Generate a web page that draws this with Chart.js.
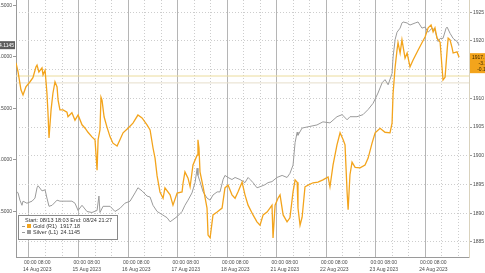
<!DOCTYPE html>
<html>
<head>
<meta charset="utf-8">
<script src="https://cdn.jsdelivr.net/npm/chart.js@4.4.0/dist/chart.umd.min.js"></script>
<style>
  html, body { margin: 0; padding: 0; background: #fff; }
  canvas { display: block; }
</style>
</head>
<body>
<canvas id="chart" width="485" height="273"></canvas>
<script>
// time = trading hours since 14 Aug 00:00 (weekend removed, so 21 Aug 00:00 = 120)
const goldHours = [-6.3,-5.3,-3.9,-2.9,-1.5,0.5,1.9,3.4,3.9,4.8,
  6.3,6.8,7.8,8.7,9.2,9.7,10.7,11.6,12.6,13.6,
  14.1,15.0,16.5,18.4,18.9,20.8,22.3,23.8,25.7,27.2,
  28.6,30.5,32.0,33.0,33.5,34.4,34.9,35.4,36.4,37.8,
  39.3,40.7,42.7,44.1,45.6,48.0,50.4,52.8,54.8,57.2,
  58.7,60.1,61.1,62.1,63.5,65.0,65.9,68.4,69.8,71.8,
  74.2,74.7,75.6,77.1,78.1,79.5,81.5,81.9,82.4,82.9,
  84.4,86.3,86.8,87.8,89.2,91.2,93.6,95.0,96.5,98.4,
  99.9,101.3,103.3,104.7,106.2,108.6,110.5,112.0,113.5,115.4,
  116.8,117.8,118.3,119.3,120.7,121.7,123.2,125.1,126.5,128.0,
  129.0,130.0,130.4,131.4,132.4,133.8,135.3,137.7,140.1,142.5,
  145.0,145.9,147.4,149.3,150.8,152.3,153.2,154.2,154.7,155.6,
  156.6,158.1,160.5,162.9,164.4,166.3,167.8,170.2,172.6,175.0,
  176.0,176.5,177.5,178.4,178.9,179.9,180.8,182.3,183.3,184.7,
  186.2,188.6,190.5,192.0,193.5,194.9,195.9,196.8,197.8,199.3,
  200.2,200.7,201.7,202.7,203.2,204.1,205.1,205.6,207.5,208.5];
const goldPrice = [1916.2,1914.6,1911.5,1910.6,1912.0,1912.9,1913.6,1915.5,1915.8,1914.6,
  1915.3,1914.1,1914.9,1910.9,1907.5,1903.1,1908.0,1910.9,1912.9,1912.0,
  1909.7,1908.0,1908.0,1907.6,1906.8,1907.5,1906.2,1907.1,1905.4,1904.8,
  1904.1,1903.3,1902.8,1897.5,1902.8,1904.5,1910.2,1909.7,1906.8,1905.0,
  1903.3,1902.2,1901.7,1902.8,1904.0,1904.8,1905.7,1907.1,1906.6,1905.4,
  1904.5,1901.4,1899.6,1896.5,1893.7,1892.6,1894.4,1893.2,1891.4,1893.5,
  1893.7,1895.3,1897.2,1896.1,1894.6,1898.4,1900.1,1902.8,1901.4,1897.2,
  1894.6,1890.9,1886.2,1885.7,1889.7,1890.2,1890.9,1894.4,1894.9,1893.2,
  1892.6,1893.7,1895.4,1893.2,1891.4,1889.7,1888.5,1887.9,1889.7,1890.2,
  1890.9,1891.4,1885.7,1891.4,1892.6,1893.2,1889.7,1888.5,1889.2,1893.7,
  1895.8,1895.4,1890.9,1887.9,1889.3,1894.6,1894.9,1895.3,1895.4,1895.8,
  1896.3,1894.6,1898.4,1901.9,1904.0,1902.8,1901.9,1893.7,1890.6,1896.7,
  1898.9,1898.0,1897.9,1898.4,1899.6,1902.2,1904.0,1904.8,1904.1,1904.0,
  1905.7,1910.9,1915.5,1918.4,1919.7,1917.9,1920.2,1917.0,1917.9,1915.5,
  1916.7,1918.4,1919.7,1920.7,1922.3,1922.8,1921.6,1922.3,1920.5,1919.8,
  1915.5,1913.2,1913.7,1918.4,1920.5,1920.2,1918.8,1917.9,1918.1,1917.18];

const silverHours = [-6.3,-5.3,-4.4,-3.4,-2.9,-1.0,1.5,2.9,3.9,4.4,
  6.3,7.8,8.7,9.7,11.2,13.6,15.0,18.4,20.8,22.3,
  23.8,25.7,28.1,30.5,33.0,33.9,34.4,35.9,39.3,41.7,
  44.1,46.5,49.0,51.4,52.8,54.8,57.2,58.7,60.1,62.1,
  64.5,66.9,68.4,69.8,71.8,74.2,75.6,77.1,79.0,80.5,
  81.5,81.9,82.9,84.4,86.3,87.8,89.2,91.2,92.6,94.1,
  95.0,96.5,98.4,99.9,102.3,104.7,106.2,107.2,108.6,110.5,
  112.0,114.4,115.9,117.8,120.2,122.7,125.1,126.5,128.0,129.0,
  130.0,130.4,132.4,134.8,139.6,142.5,145.9,149.3,151.8,154.2,
  155.6,159.0,161.9,164.4,166.8,169.2,171.2,172.6,174.1,176.0,
  176.5,177.5,178.4,179.9,180.8,181.3,183.3,184.7,187.2,188.6,
  190.5,192.0,193.5,195.4,196.8,198.3,199.3,200.7,202.2,202.7,
  204.1,205.6,207.5,208.5];
const silverPrice = [22.70,22.68,22.61,22.56,22.60,22.58,22.60,22.63,22.73,22.75,
  22.70,22.71,22.63,22.55,22.56,22.61,22.60,22.60,22.60,22.58,
  22.51,22.56,22.50,22.49,22.51,22.65,22.49,22.55,22.55,22.50,
  22.53,22.58,22.60,22.68,22.73,22.70,22.65,22.64,22.56,22.50,
  22.47,22.44,22.40,22.42,22.45,22.50,22.56,22.61,22.68,22.78,
  22.92,22.85,22.79,22.69,22.63,22.61,22.66,22.69,22.69,22.81,
  22.85,22.83,22.81,22.83,22.81,22.78,22.83,22.81,22.78,22.73,
  22.74,22.76,22.78,22.79,22.83,22.85,22.83,22.87,22.95,23.17,
  23.27,23.24,23.31,23.32,23.34,23.37,23.36,23.42,23.44,23.39,
  23.42,23.42,23.44,23.49,23.55,23.65,23.75,23.78,23.73,23.84,
  24.00,24.17,24.24,24.28,24.33,24.34,24.33,24.31,24.33,24.34,
  24.28,24.29,24.24,24.28,24.26,24.15,24.18,24.18,24.28,24.29,
  24.23,24.18,24.15,24.1145];

const dayLabels = ['14 Aug 2023','15 Aug 2023','16 Aug 2023','17 Aug 2023','18 Aug 2023',
  '21 Aug 2023','22 Aug 2023','23 Aug 2023','24 Aug 2023'];
const goldTicks = [1885, 1890, 1895, 1900, 1905, 1910, 1915, 1920, 1925];
const silverTicks = [22.5, 23.0, 23.5, 24.0, 24.5];
const refLevels = [1913.9, 1912.7];

const X_MIN = -6.3, X_MAX = 213.3;
const GOLD = '#f3a41c', SILVER = '#9b9b9b';

Chart.defaults.font.family = '"Liberation Sans", Arial, sans-serif';
Chart.defaults.color = '#4a4a4a';

const toPoints = (xs, ys) => xs.map((x, i) => ({ x: x, y: ys[i] }));
const dayStarts = dayLabels.map((d, i) => i * 24);
const subTicks = [];
dayLabels.forEach((d, i) => { subTicks.push(i * 24 + 8, i * 24 + 16); });
const sessionStarts = dayLabels.map((d, i) => i * 24 - 6).concat([210]);

function fixed(size, prop) {
  return function (s) {
    s[prop] = size;
    s.paddingTop = 0; s.paddingBottom = 0; s.paddingLeft = 0; s.paddingRight = 0;
  };
}
function setTicks(values) {
  return function (s) { s.ticks = values.map(v => ({ value: v })); };
}

const tags = {
  id: 'tags',
  afterDraw(chart) {
    const ctx = chart.ctx;
    const yR = chart.scales.yR, yL = chart.scales.yL, area = chart.chartArea;
    const gLast = goldPrice[goldPrice.length - 1];
    const sLast = silverPrice[silverPrice.length - 1];
    ctx.save();
    ctx.textBaseline = 'middle';

    // last gold value tag
    const gy = yR.getPixelForValue(gLast);
    ctx.fillStyle = GOLD;
    ctx.fillRect(yR.left + 1, gy - 4, 20, 20);
    ctx.fillStyle = '#3b2800';
    ctx.font = '5px "Liberation Sans", Arial';
    ctx.textAlign = 'left';
    ctx.fillText(gLast.toFixed(2), yR.left + 3, gy);
    ctx.textAlign = 'right';
    ctx.fillText('-3.22', chart.width + 5, gy + 6);
    ctx.fillText('-0.17%', chart.width + 8, gy + 12);

    // last silver value tag
    const sy = yL.getPixelForValue(sLast);
    ctx.fillStyle = '#5d5d5d';
    ctx.fillRect(0, sy - 4, yL.right - 1, 8);
    ctx.fillStyle = '#ffffff';
    ctx.fillText(sLast.toFixed(4), yL.right - 2, sy);

    // legend box
    const bx = area.left + 2, by = area.bottom - 42;
    ctx.fillStyle = '#ffffff';
    ctx.fillRect(bx, by, 99, 24);
    ctx.strokeStyle = '#8a8a8a';
    ctx.lineWidth = 1;
    ctx.strokeRect(bx + 0.5, by + 0.5, 99, 24);
    ctx.font = '5.5px "Liberation Sans", Arial';
    ctx.fillStyle = '#333';
    ctx.textAlign = 'left';
    ctx.fillText('Start: 08/13 18:03 End: 08/24 21:27', bx + 7, by + 5);
    ctx.fillStyle = GOLD;
    ctx.fillRect(bx + 9, by + 9, 4, 4);
    ctx.fillStyle = SILVER;
    ctx.fillRect(bx + 9, by + 15, 4, 4);
    ctx.strokeStyle = '#999';
    ctx.beginPath();
    ctx.moveTo(bx + 4, by + 11.5); ctx.lineTo(bx + 7, by + 11.5);
    ctx.moveTo(bx + 4, by + 17.5); ctx.lineTo(bx + 7, by + 17.5);
    ctx.stroke();
    ctx.fillStyle = '#333';
    ctx.fillText('Gold (R1)', bx + 15, by + 11);
    ctx.fillText('Silver (L1)', bx + 15, by + 17);
    ctx.textAlign = 'right';
    ctx.fillText(gLast.toFixed(2), bx + 62, by + 11);
    ctx.fillText(sLast.toFixed(4), bx + 62, by + 17);
    ctx.restore();
  }
};

new Chart(document.getElementById('chart'), {
  type: 'line',
  data: {
    datasets: [
      {
        label: 'Gold (R1)',
        data: toPoints(goldHours, goldPrice),
        yAxisID: 'yR',
        borderColor: GOLD,
        borderWidth: 1.3,
        pointRadius: 0,
        tension: 0
      },
      {
        label: 'Silver (L1)',
        data: toPoints(silverHours, silverPrice),
        yAxisID: 'yL',
        borderColor: SILVER,
        borderWidth: 1,
        pointRadius: 0,
        tension: 0
      },
      {
        label: 'ref1',
        data: [{ x: X_MIN, y: refLevels[0] }, { x: X_MAX, y: refLevels[0] }],
        yAxisID: 'yR',
        borderColor: '#ebdc9c',
        borderWidth: 1,
        pointRadius: 0
      },
      {
        label: 'ref2',
        data: [{ x: X_MIN, y: refLevels[1] }, { x: X_MAX, y: refLevels[1] }],
        yAxisID: 'yR',
        borderColor: '#e6dfcb',
        borderWidth: 1,
        pointRadius: 0
      }
    ]
  },
  options: {
    responsive: false,
    animation: false,
    devicePixelRatio: 1,
    layout: { padding: 0 },
    plugins: { legend: { display: false }, tooltip: { enabled: false } },
    scales: {
      x: {
        type: 'linear',
        position: 'bottom',
        min: X_MIN, max: X_MAX,
        afterBuildTicks: s => { s.ticks = dayStarts.map(v => ({ value: v + 4 })); },
        afterFit: fixed(16, 'height'),
        grid: { drawOnChartArea: false, drawTicks: false },
        border: { display: true, color: '#9a9a9a' },
        ticks: {
          autoSkip: false, maxRotation: 0, padding: 2,
          font: { size: 5, lineHeight: 1.4 },
          callback: (v, i) => ['00:00 08:00', dayLabels[i]]
        }
      },
      xSep: {
        type: 'linear',
        position: 'bottom',
        min: X_MIN, max: X_MAX,
        afterBuildTicks: setTicks(sessionStarts),
        afterFit: fixed(0, 'height'),
        grid: { drawOnChartArea: false, drawTicks: true, tickLength: 5, tickColor: '#9a9a9a' },
        border: { display: false },
        ticks: { display: false }
      },
      xDay: {
        type: 'linear',
        position: 'top',
        min: X_MIN, max: X_MAX,
        afterBuildTicks: setTicks(dayStarts),
        afterFit: fixed(0, 'height'),
        grid: { color: '#b5b5b5', lineWidth: 1, drawTicks: false },
        border: { display: false },
        ticks: { display: false }
      },
      xDot: {
        type: 'linear',
        position: 'top',
        min: X_MIN, max: X_MAX,
        afterBuildTicks: setTicks(subTicks),
        afterFit: fixed(0, 'height'),
        grid: { color: '#cdcdcd', lineWidth: 1, drawTicks: false },
        border: { display: false, dash: [1, 2] },
        ticks: { display: false }
      },
      yR: {
        type: 'linear',
        position: 'right',
        min: 1882.37, max: 1927.14,
        afterBuildTicks: setTicks(goldTicks),
        afterFit: fixed(16, 'width'),
        grid: { color: '#cdcdcd', drawTicks: true, tickLength: 3, tickColor: '#9a9a9a' },
        border: { display: true, color: '#d9d2bd', dash: [1, 2] },
        ticks: { padding: 1, font: { size: 5 }, callback: v => String(v) }
      },
      yL: {
        type: 'linear',
        position: 'left',
        min: 22.058, max: 24.553,
        afterBuildTicks: setTicks(silverTicks),
        afterFit: fixed(16, 'width'),
        grid: { drawOnChartArea: false, drawTicks: true, tickLength: 3, tickColor: '#9a9a9a' },
        border: { display: true, color: '#9a9a9a' },
        ticks: { padding: 1, font: { size: 5 }, callback: v => v.toFixed(4) }
      }
    }
  },
  plugins: [tags]
});
</script>
</body>
</html>
